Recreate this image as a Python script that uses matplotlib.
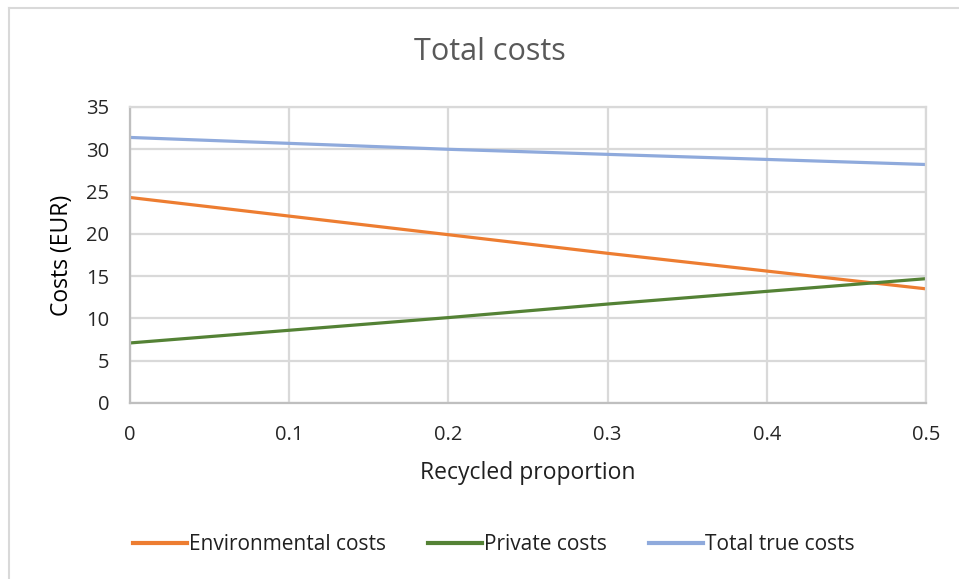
import matplotlib
matplotlib.use("Agg")
import matplotlib.pyplot as plt
from matplotlib.lines import Line2D

# data
recycled = [0, 0.1, 0.2, 0.3, 0.4, 0.5]
environmental = [24.3, 22.1, 19.9, 17.7, 15.6, 13.5]
private = [7.1, 8.6, 10.1, 11.7, 13.2, 14.7]
total_true = [31.4, 30.7, 30.0, 29.4, 28.8, 28.2]

x_ticks = [0, 0.1, 0.2, 0.3, 0.4, 0.5]
x_tick_labels = ["0", "0.1", "0.2", "0.3", "0.4", "0.5"]
y_ticks = [0, 5, 10, 15, 20, 25, 30, 35]

plt.rcParams["font.family"] = ["Open Sans", "DejaVu Sans"]

fig = plt.figure(figsize=(9.59, 5.79), dpi=100)
ax = fig.add_axes([130 / 959, 1 - 403 / 579, 796 / 959, 296 / 579])

ax.plot(recycled, environmental, color="#ED7D31", lw=2.3, label="Environmental costs")
ax.plot(recycled, private, color="#548235", lw=2.3, label="Private costs")
ax.plot(recycled, total_true, color="#8FAADC", lw=2.3, label="Total true costs")

ax.set_xlim(0, 0.5)
ax.set_ylim(0, 35)
ax.set_xticks(x_ticks)
ax.set_xticklabels(x_tick_labels)
ax.set_yticks(y_ticks)
ax.grid(True, color="#D9D9D9", lw=1.6)
ax.set_axisbelow(True)
for s in ax.spines.values():
    s.set_color("#D9D9D9")
    s.set_linewidth(1.6)
ax.spines["left"].set_color("#BFBFBF")
ax.spines["bottom"].set_color("#BFBFBF")
ax.tick_params(length=0, labelsize=14.5, colors="#262626")
ax.tick_params(axis="x", pad=16)
ax.tick_params(axis="y", pad=15)

ax.set_xlabel("Recycled proportion", fontsize=16.5, color="#202020", va="center")
ax.xaxis.set_label_coords(0.5, -(473 - 403) / 296)
ax.set_ylabel("Costs (EUR)", fontsize=16.5, color="#000000", va="center")
ax.yaxis.set_label_coords(-(130 - 62) / 796, 0.5)
fig.text(490 / 959, 1 - 52 / 579, "Total costs", ha="center", va="center", fontsize=22, color="#595959")

handles = [Line2D([], [], color=l.get_color(), lw=3) for l in ax.get_lines()]
labels = [l.get_label() for l in ax.get_lines()]
fig.legend(handles, labels, loc="center", bbox_to_anchor=(494 / 959, 1 - 545 / 579), ncol=3,
           frameon=False, fontsize=15, handlelength=2.6, handletextpad=0.1, columnspacing=2.0,
           labelcolor="#202020")

# chart frame (only left and top edges are visible in the crop)
fig.add_artist(Line2D([9 / 959, 9 / 959], [0, 1 - 8 / 579], color="#D9D9D9", lw=1.5))
fig.add_artist(Line2D([9 / 959, 1], [1 - 8 / 579, 1 - 8 / 579], color="#D9D9D9", lw=1.5))

fig.savefig("out.png", dpi=100)
